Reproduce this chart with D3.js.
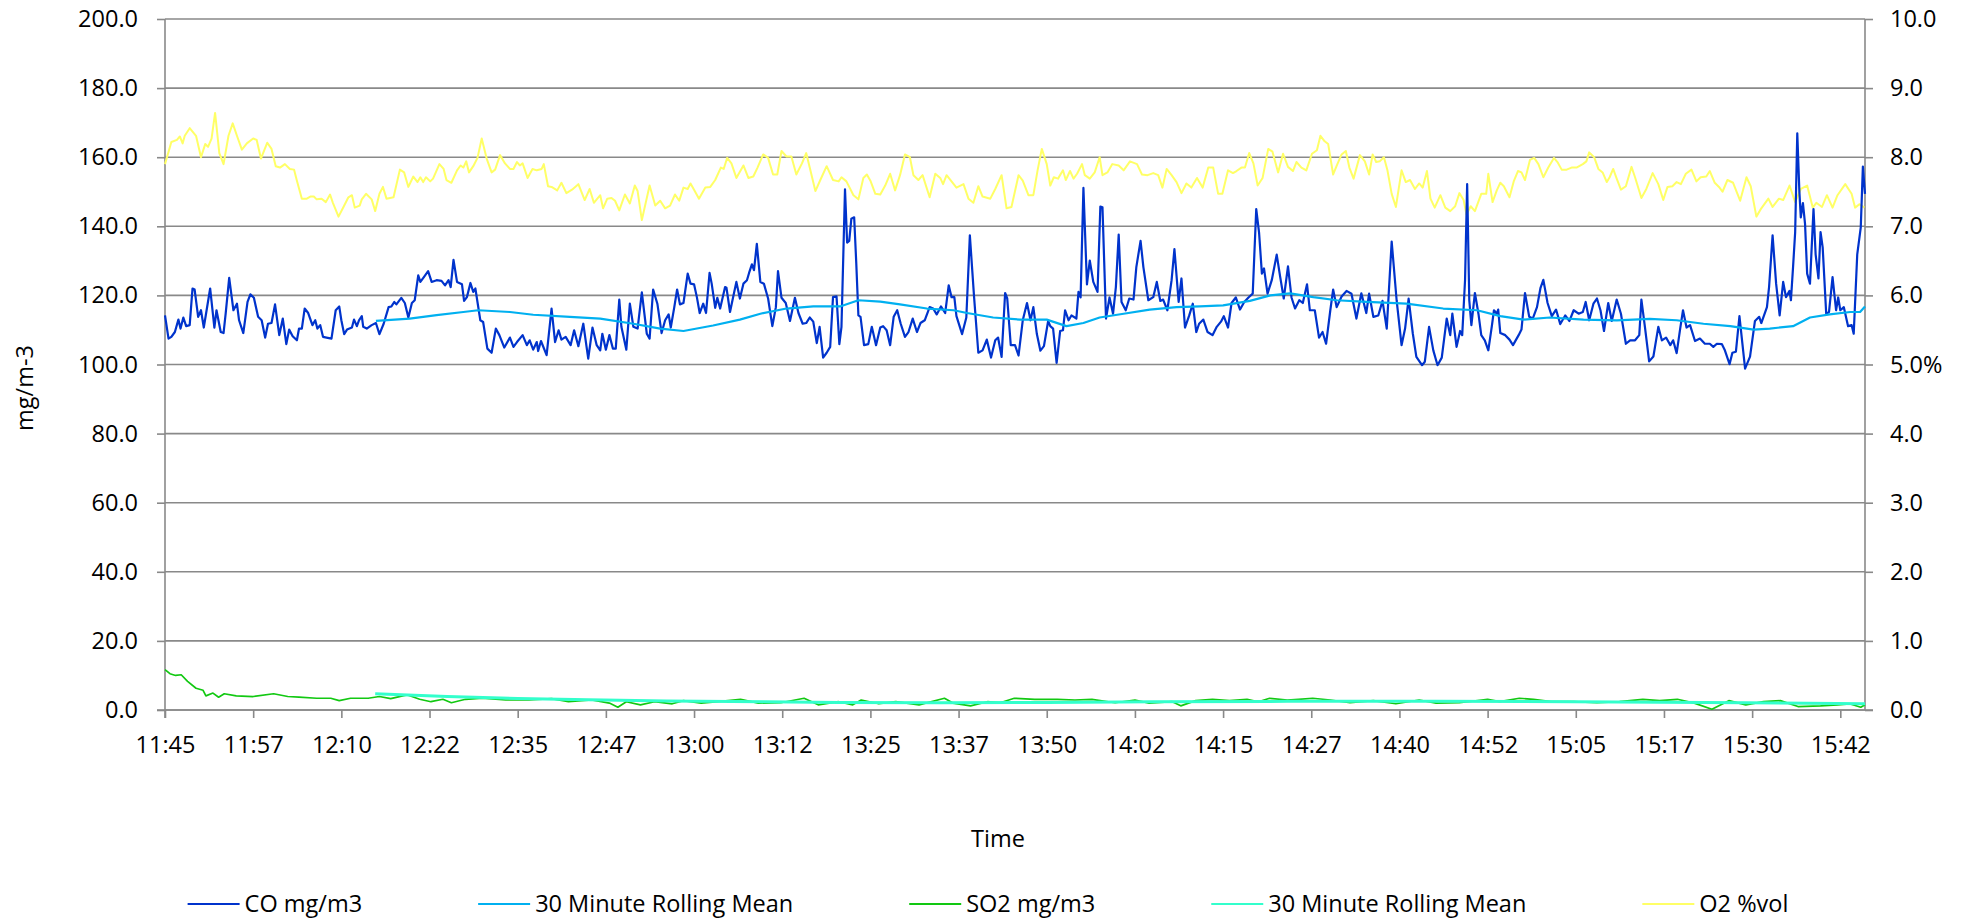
<!DOCTYPE html>
<html>
<head>
<meta charset="utf-8">
<script src="https://cdn.jsdelivr.net/npm/d3@7"></script>
<style>
  html, body { margin: 0; padding: 0; background: #ffffff; }
  svg { display: block; }
  text { font-family: "Open Sans", Lato, sans-serif; fill: #000; }
</style>
</head>
<body>
<svg id="chart" width="1964" height="922"></svg>
<script>
// ---------------- DATA (time in minutes after 11:45) ----------------
const xTickLabels = ["11:45","11:57","12:10","12:22","12:35","12:47","13:00","13:12","13:25","13:37",
                     "13:50","14:02","14:15","14:27","14:40","14:52","15:05","15:17","15:30","15:42"];
const tickIntervalMin = 12.5;
const timeSpanMin = 241;
const leftTicks = [0,20,40,60,80,100,120,140,160,180,200];
const rightTicks = [0,1,2,3,4,5,6,7,8,9,10];
const rightTickLabels = ["0.0","1.0","2.0","3.0","4.0","5.0%","6.0","7.0","8.0","9.0","10.0"];
const legendNames = ["CO mg/m3","30 Minute Rolling Mean","SO2 mg/m3","30 Minute Rolling Mean","O2 %vol"];

// CO mg/m3 [minute, value]
const coSeries = [
[0,114.2],[0.5,107.5],[0.9,108],[1.4,109.4],[1.9,113],[2.2,110.4],[2.6,113.6],[3.0,111.1],[3.5,111.4],[3.9,122],[4.2,121.7],[4.7,113.8],[5.1,115.7],[5.5,110.7],[6.4,122],[7.0,110.7],[7.3,115.7],[7.9,109.4],[8.3,109.1],[8.6,114.7],[9.1,125.1],[9.7,115.7],[10.2,117.6],[10.5,112.8],[11.1,109.1],[11.7,118.1],[12.1,120.3],[12.6,119.3],[13.2,113.8],[13.7,112.8],[14.2,107.8],[14.6,111.8],[15.1,112],[15.6,117.4],[16.2,108.5],[16.7,113.3],[17.2,105.9],[17.6,110.1],[18.1,108.2],[18.7,107],[19.0,110.4],[19.4,110.4],[19.8,116.2],[20.3,114.9],[20.9,111.4],[21.3,112.8],[21.6,110.4],[22.0,111.4],[22.4,108],[22.9,107.8],[23.6,107.5],[24.2,115.7],[24.7,116.8],[25.0,112.8],[25.4,108.8],[25.8,110.1],[26.5,110.7],[26.8,113],[27.2,111.1],[27.5,112.8],[27.9,114],[28.1,110.9],[28.6,110.4],[29.3,111.4],[29.9,112],[30.4,108.8],[31.0,111.8],[31.7,116.6],[32.1,116.8],[32.5,118.1],[32.8,117.4],[33.5,119.3],[34.0,117.8],[34.5,113.6],[35.0,117.8],[35.4,118.6],[35.9,125.8],[36.2,123.9],[36.7,125.3],[37.3,127],[37.8,123.9],[38.5,124.4],[39.2,124.2],[39.7,122.9],[40.2,124.4],[40.5,122.4],[40.9,130.3],[41.4,123.9],[42.1,123.2],[42.4,118.4],[42.8,119.5],[43.3,123.6],[43.7,121],[44.0,122],[44.7,112.8],[45.1,112.3],[45.7,104.6],[46.3,103.4],[46.9,110.4],[47.4,108.5],[48.1,104.9],[48.9,107.8],[49.4,105.1],[49.9,106.5],[50.7,108.5],[51.3,105.6],[51.7,107],[52.2,104.3],[52.7,106.5],[52.9,103.9],[53.3,106.8],[54.1,102.7],[54.8,116.2],[55.3,106.5],[55.8,109.9],[56.2,107.2],[56.8,108],[57.5,105.6],[58.0,109.9],[58.6,105.3],[59.3,111.8],[60.0,101.7],[60.6,110.7],[61.2,105.6],
[61.7,104.1],[62.0,108.9],[62.5,104.3],[63.0,108.5],[63.5,104.6],[63.9,104.6],[64.4,118.8],[64.7,110.9],[65.4,104.3],[65.9,117.6],[66.4,110.9],[67.0,110.4],[67.6,120.9],[68.3,108.9],[68.7,107.5],[69.2,121.7],[69.8,117.6],[70.4,109.1],[70.9,112.8],[71.4,114.5],[71.7,110.7],[72.2,116.6],[72.6,121.7],[73.0,117.4],[73.5,117.8],[74.1,126.3],[74.5,123.4],[75.0,123.2],[75.4,119.5],[75.8,114.9],[76.3,117.6],[76.7,114.9],[77.2,126.5],[77.5,123.4],[78.0,116.4],[78.3,119.3],[78.7,116.2],[79.4,122.4],[79.6,122.2],[80.1,115.2],[80.5,119.1],[81.0,123.9],[81.5,119.1],[82.0,123.4],[82.5,124.4],[82.8,126.5],[83.2,129],[83.5,127.3],[83.9,134.9],[84.4,123.9],[84.9,123.4],[85.5,119.1],[86.1,111.1],[86.6,116.6],[86.9,127],[87.4,119.3],[88.0,117.8],[88.6,112.6],[89.3,119.3],[89.8,114.9],[90.4,111.8],[90.9,112],[91.4,113.6],[91.9,112.4],[92.4,106.2],[92.8,110.9],[93.3,102],[93.8,103.4],[94.3,105.1],[94.7,119.5],[95.2,119.7],[95.6,105.9],[95.9,110.9],[96.4,150.7],[96.7,135.3],[97.0,135.8],[97.3,142.2],[97.7,142.6],[98.0,129.2],[98.3,114.2],[98.6,113.8],[99.1,105.6],[99.7,105.9],[100.2,110.9],[100.8,105.6],[101.4,110.7],[101.8,111.1],[102.3,109.9],[102.8,105.6],[103.3,113.8],[103.8,115.7],[104.3,111.8],[104.9,108],[105.4,109.4],[106.0,113.3],[106.6,109.4],[107.1,112],[107.7,112.8],[108.4,116.6],[108.9,116.2],[109.4,114.5],[110.0,116.8],[110.6,114.9],[111.1,122.9],[111.5,119.5],[111.9,119.5],[112.2,114],[113.0,108.8],[113.6,113.6],[114.1,137.4],[114.7,119.5],[115.3,103.4],[115.9,104.1],[116.5,107.2],[117.1,102],[117.7,107],[118.1,107.8],[118.6,102.2],[119.1,120.7],[119.4,119.1],[119.9,105.6],[120.5,105.6],[121.0,102.6],[121.6,112.8],[122.2,117.8],[122.7,112.8],[123.1,116.6],[123.6,108.8],[124.1,104],[124.6,105.3],[125.2,112.6],
[125.5,111.1],[125.9,110.4],[126.4,100.5],[126.9,109.7],[127.3,109.9],[127.6,115.7],[128.1,112.8],[128.5,114.2],[129.2,113.3],[129.5,121],[129.8,119.4],[130.2,151.1],[130.7,123.2],[131.1,130.1],[131.6,123.9],[132.2,121],[132.6,145.7],[132.9,145.5],[133.4,113.3],[133.9,119.4],[134.4,114.7],[134.8,122.4],[135.2,137.6],[135.6,118.1],[136.2,115.7],[136.7,119.1],[137.3,118.8],[137.7,128.2],[138.3,135.8],[138.7,128.2],[139.4,118.6],[140.1,119.5],[140.6,123.9],[141.1,118.4],[141.5,118.8],[142.1,115.7],[142.7,124.4],[143.1,133.4],[143.7,118.1],[144.1,124.9],[144.6,110.7],[145.2,114.2],[145.7,117.6],[146.2,109.4],[146.6,111.8],[147.2,113],[147.8,109.4],[148.5,108.5],[149.1,110.9],[149.7,112.4],[150.1,114],[150.7,110.7],[151.2,117.8],[151.8,119.4],[152.4,115.9],[153.0,118.1],[153.6,119.4],[154.2,120.5],[154.7,145],[155.1,138.2],[155.5,126.3],[155.8,127.8],[156.3,120.5],[156.9,124.4],[157.6,131.8],[158.1,125.3],[158.6,119.1],[159.2,128.4],[159.7,119.4],[160.2,116.2],[160.8,118.6],[161.3,117.8],[161.9,123.2],[162.3,115.7],[163.0,115.7],[163.6,107.8],[164.1,109.4],[164.6,106],[165.2,115.7],[165.6,121.7],[166.1,116.6],[166.8,119.7],[167.5,121.3],[168.2,120.5],[168.9,113.3],[169.6,120.6],[170.3,114.9],[170.7,120.5],[171.3,113.8],[172.0,114.2],[172.6,118.4],[173.2,110.4],[173.9,135.6],[174.6,118.6],[175.3,105.6],[175.8,110.4],[176.3,119.1],[176.9,108.9],[177.4,102.2],[178.2,99.8],[178.6,100.8],[179.2,110.9],[179.8,104.1],[180.4,99.8],[181.0,102],[181.7,113.3],
[182.2,108.5],[182.5,114.7],[183.1,105.1],[183.6,109.7],[183.9,108.5],[184.3,124.4],[184.6,152.2],[184.9,118.6],[185.2,111.4],[185.7,120.7],[186.2,114.7],[186.6,108.5],[187.1,107],[187.6,104.1],[188.1,111.1],[188.4,115.7],[188.8,114.7],[189.0,115.9],[189.3,109.1],[190.0,108.5],[190.6,107.2],[191.1,105.6],[191.9,108.5],[192.3,110.1],[192.8,120.7],[193.4,113.8],[193.9,113.3],[194.5,116.6],[195.0,122.2],[195.4,124.5],[196.0,117.8],[196.6,114],[197.2,115.9],[197.8,111.7],[198.5,114.2],[199.1,112.6],[199.7,115.7],[200.4,114.7],[201.0,115.2],[201.4,118.1],[201.9,112.8],[202.5,117.6],[203.0,119.1],[203.5,115.7],[204.0,109.7],[204.6,117.8],[205.1,112.6],[205.8,118.8],[206.4,114.7],[207.1,106],[207.7,107],[208.4,107],[209.0,108.5],[209.3,118.8],[209.8,110.9],[210.4,100.9],[211.0,102.3],[211.7,110.9],[212.2,107],[212.8,107.8],[213.4,105.6],[213.8,107],[214.3,103.3],[214.8,110.4],[215.2,115.7],[215.7,110.7],[216.2,111.4],[216.9,106.8],[217.6,107.5],[218.3,106],[219.0,106],[219.5,105.1],[220.0,106],[220.7,105.9],[221.1,104.3],[221.8,100.1],[222.2,103.4],[222.7,103.7],[223.2,114],[224.0,98.8],[224.7,102.3],[225.4,112.6],[226.0,113.8],[226.3,112],[227.1,116.6],[227.4,122.4],[227.9,137.4],[228.4,123.4],[228.9,114.2],[229.4,123.9],[229.8,119.5],[230.3,121.3],[230.5,118.6],[230.8,128.2],[231.1,138.3],[231.4,166.9],[231.7,149.9],[231.9,142.6],[232.2,146.7],[232.5,140.7],[232.8,126.3],[233.2,123.4],[233.7,145],[234.0,131.9],[234.4,124.9],[234.7,138.3],[235.0,133.9],[235.5,114.7],[235.9,115.2],[236.4,125.3],[236.9,115.7],[237.2,119.4],[237.5,115.7],[238.0,116.6],[238.6,111.1],[239.1,111.4],[239.4,108.9],[239.9,131.9],[240.4,139.7],[240.7,157.3],[241.0,149.4]
];

// CO 30 minute rolling mean
const coMeanSeries = [
[29.9,112.6],[34.7,113.3],[38.5,114.3],[42.3,115.2],[44.4,115.7],[48.9,115.2],[52.2,114.4],[57.4,113.8],[61.7,113.3],[66.4,111.8],[70.2,110.4],[73.5,109.7],[77.7,111.3],[81.5,113],[84.4,114.7],[88.1,116.2],[91.9,116.8],[95.7,116.8],[98.3,118.6],[101.4,118.2],[104.2,117.4],[108.0,116.2],[111.8,115.7],[113.7,114.9],[117.4,113.6],[121.2,113],[125.0,113],[127.8,111.1],[130.2,112],[132.5,113.6],[135.9,114.7],[139.6,115.9],[143.4,116.6],[146.7,116.8],[150.0,117.1],[153.8,118.4],[156.7,120],[159.5,120.6],[162.8,119.5],[166.1,118.6],[170.4,118.1],[176.0,117.6],[181.2,116.2],[186.0,115.7],[189.3,114],[192.6,113],[196.3,113.6],[201.1,113],[205.8,112.8],[210.5,113.2],[214.3,112.8],[218.1,111.8],[221.9,111.1],[225.2,110.1],[227.5,110.4],[230.8,111.1],[233.2,113.6],[236.0,114.5],[238.9,115.2],[240.3,115.2],[241.0,116.8]
];

// SO2 mg/m3
const so2Series = [
[0,11.7],[0.7,10.5],[1.5,10],[2.3,10.2],[3.2,8.3],[4.4,6.3],[5.4,5.7],[5.8,4.1],[6.8,4.9],[7.6,3.7],[8.4,4.7],[10.1,4.1],[12.5,3.9],[15.4,4.7],[17.4,3.9],[19.0,3.7],[21.5,3.4],[23.5,3.4],[24.7,2.7],[26.3,3.4],[28.8,3.4],[30.4,3.9],[32.0,3.3],[34.3,4.4],[36.1,3.1],[37.7,2.4],[39.4,3.1],[40.6,2.1],[42.6,3.1],[45.0,3.4],[48.3,2.9],[51.6,2.9],[54.8,3.3],[57.2,2.4],[60.5,2.9],[63.0,2.0],[64.2,0.8],[65.4,2.4],[67.4,1.5],[69.4,2.4],[71.9,1.8],[73.5,2.7],[76.0,2.0],[78.4,2.4],[81.6,3.1],[84.1,2.0],[87.3,2.1],[90.6,3.4],[92.6,1.5],[95.5,2.4],[97.5,1.5],[98.7,2.9],[101.2,1.8],[103.6,2.4],[106.9,1.5],[110.5,3.4],[111.7,2.0],[114.2,1.2],[116.6,2.4],[118.4,2.1],
[120.4,3.4],[123.3,3.1],[126.5,3.1],[129.0,2.9],[131.4,3.1],[134.7,2.1],[137.5,2.9],[139.5,2.0],[142.8,2.4],[144.0,1.2],[146.1,2.7],[148.5,3.1],[150.9,2.7],[153.4,3.1],[155.0,2.4],[156.6,3.4],[159.1,2.9],[160.7,3.1],[162.7,3.4],[165.2,2.9],[168.0,2.1],[171.3,2.7],[174.5,1.8],[177.8,2.9],[180.2,2.0],[183.5,2.1],[187.5,3.1],[189.2,2.4],[192.0,3.4],[194.0,3.1],[196.5,2.4],[199.7,2.4],[203.0,2.1],[206.2,2.4],[209.5,3.1],[211.9,2.7],[214.4,3.1],[216.8,2.0],[219.3,0.2],[221.7,2.7],[224.1,1.5],[226.6,2.4],[229.0,2.7],[231.5,1.0],[234.7,1.2],[237.1,1.5],[238.8,1.8],[240.4,0.8],[241.0,1.5]
];

// SO2 30 minute rolling mean
const so2MeanSeries = [
[29.8,4.7],[40,3.9],[50,3.3],[60,3.0],[71.1,2.6],[85,2.4],[95.5,2.2],[110,2.1],[125,2.2],[140,2.4],[159.1,2.5],[180,2.5],[199.7,2.4],[224.1,2.1],[241.0,1.8]
];

// O2 %vol (right axis)
const o2Series = [
[0,7.90],[0.9,8.22],[1.7,8.25],[2.1,8.30],[2.5,8.20],[2.8,8.31],[3.5,8.42],[4.4,8.31],[5.1,8.00],[5.7,8.19],[6.1,8.15],[6.6,8.27],[7.1,8.64],[7.7,8.06],[8.3,7.90],[9.0,8.31],[9.6,8.49],[10.2,8.31],[10.9,8.11],[11.6,8.20],[12.5,8.27],[13.0,8.25],[13.6,7.98],[14.5,8.21],[15.1,8.12],[15.7,7.87],[16.3,7.85],[17.0,7.90],[17.7,7.83],[18.3,7.82],[18.7,7.66],[19.4,7.40],[20.1,7.40],[20.6,7.43],[21.1,7.43],[21.5,7.39],[22.2,7.40],[22.8,7.35],[23.4,7.46],[23.8,7.34],[24.6,7.14],[25.3,7.28],[26.0,7.42],[26.5,7.45],[26.9,7.27],[27.6,7.30],[27.9,7.39],[28.5,7.47],[29.3,7.39],[29.8,7.22],[30.4,7.47],[30.9,7.57],[31.4,7.40],[32.4,7.42],[33.3,7.82],[33.9,7.78],[34.5,7.57],[35.2,7.72],[35.8,7.64],[36.2,7.71],[36.6,7.64],[37.0,7.71],[37.6,7.65],[38.0,7.69],[38.9,7.90],[39.5,7.83],[39.9,7.67],[40.6,7.63],[41.4,7.81],[41.9,7.88],[42.3,7.85],[42.7,7.94],[43.1,7.78],[43.7,7.87],[44.3,7.99],[44.9,8.27],[45.6,7.98],[46.3,7.78],[46.8,7.82],[47.5,8.03],[48.2,7.91],[48.9,7.83],[49.4,7.83],[49.9,7.93],[50.3,7.88],[50.7,7.91],[51.4,7.70],[52.1,7.83],[52.7,7.81],[53.4,7.83],[53.7,7.90],[54.3,7.58],[54.8,7.57],[55.6,7.52],[56.2,7.63],[56.9,7.48],[57.7,7.53],[58.6,7.61],[59.5,7.38],[60.2,7.54],[60.8,7.34],
[61.7,7.45],[62.1,7.26],[62.7,7.40],[63.3,7.41],[63.8,7.37],[64.4,7.23],[65.2,7.46],[65.9,7.33],[66.6,7.59],[67.0,7.51],[67.6,7.09],[68.7,7.59],[69.5,7.30],[70.2,7.37],[70.9,7.26],[71.6,7.30],[72.3,7.46],[72.9,7.37],[73.5,7.56],[74.1,7.54],[74.5,7.62],[75.0,7.53],[75.7,7.40],[76.6,7.56],[77.3,7.57],[78.0,7.67],[78.8,7.85],[79.2,7.83],[79.7,7.99],[80.3,7.91],[81.0,7.70],[82.0,7.88],[82.7,7.70],[83.4,7.72],[84.0,7.85],[84.8,8.04],[85.5,7.99],[86.2,7.75],[86.8,7.75],[87.4,8.09],[88.1,8.01],[88.8,8.01],[89.5,7.75],[90.3,7.91],[90.9,8.06],[91.4,7.85],[92.2,7.51],[92.9,7.67],[93.8,7.87],[94.7,7.67],[95.5,7.65],[95.9,7.71],[96.6,7.65],[97.6,7.45],[98.3,7.39],[99.0,7.70],[99.5,7.75],[100.0,7.66],[100.7,7.47],[101.4,7.46],[102.1,7.59],[102.8,7.76],[103.5,7.52],[104.2,7.74],[104.9,8.04],[105.6,8.00],[106.1,7.74],[106.8,7.67],[107.4,7.74],[108.4,7.42],[109.2,7.76],[109.9,7.70],[110.3,7.61],[110.8,7.74],[111.5,7.65],[112.2,7.56],[113.2,7.61],[113.9,7.40],[114.6,7.34],[115.3,7.58],[115.9,7.43],[117.0,7.40],[117.7,7.54],[118.6,7.74],[119.3,7.26],[120.0,7.28],[121.0,7.74],[121.6,7.66],[122.4,7.45],[123.1,7.45],[123.7,7.81],[124.3,8.12],[125.0,7.90],
[125.5,7.59],[126.0,7.71],[126.6,7.69],[127.3,7.81],[127.7,7.67],[128.3,7.80],[128.8,7.69],[129.3,7.76],[130.0,7.90],[130.4,7.74],[131.1,7.69],[131.8,7.78],[132.5,8.00],[132.9,7.74],[133.6,7.78],[134.3,7.90],[135.2,7.88],[135.9,7.81],[136.8,7.94],[137.8,7.90],[138.5,7.75],[139.3,7.74],[140.1,7.77],[140.8,7.74],[141.4,7.56],[142.0,7.83],[142.7,7.74],[143.4,7.64],[144.1,7.48],[144.8,7.62],[145.5,7.56],[146.3,7.70],[147.1,7.56],[147.9,7.85],[148.6,7.85],[149.3,7.47],[149.9,7.47],[150.7,7.81],[151.4,7.77],[151.9,7.80],[152.6,7.85],[153.1,7.85],[153.7,8.06],[154.3,7.91],[154.9,7.59],[155.6,7.70],[156.4,8.12],[157.0,8.08],[157.8,7.78],[158.5,8.05],[159.2,7.86],[159.9,7.80],[160.4,7.93],[161.1,7.85],[161.8,7.81],[162.6,8.05],[163.3,8.10],[163.8,8.31],[164.4,8.23],[164.9,8.19],[165.6,7.75],[166.2,7.90],[166.8,8.04],[167.4,8.09],[167.9,7.85],[168.5,7.69],[169.4,8.03],[170.1,7.94],[170.7,7.75],[171.2,8.04],[171.7,7.93],[172.2,7.94],[172.8,8.00],[173.3,7.81],[173.9,7.47],[174.5,7.28],[175.3,7.81],[175.9,7.64],[176.5,7.67],[177.2,7.54],[177.8,7.62],[178.3,7.56],[178.9,7.80],[179.4,7.40],[180.0,7.27],[180.8,7.45],[181.5,7.27],
[182.2,7.22],[182.9,7.29],[183.5,7.48],[184.1,7.38],[184.5,7.17],[185.1,7.29],[185.7,7.22],[186.6,7.47],[187.3,7.47],[187.6,7.76],[188.2,7.35],[188.8,7.52],[189.3,7.63],[189.8,7.58],[190.6,7.42],[191.2,7.65],[191.8,7.80],[192.3,7.78],[192.8,7.67],[193.5,7.96],[194.1,7.99],[194.7,7.90],[195.4,7.71],[196.1,7.85],[196.9,7.99],[197.4,7.93],[198.0,7.82],[198.7,7.82],[199.4,7.85],[200.1,7.85],[201.0,7.90],[201.5,7.94],[201.9,8.07],[202.6,8.00],[203.2,7.83],[203.8,7.78],[204.4,7.64],[204.8,7.71],[205.3,7.83],[205.8,7.69],[206.4,7.53],[207.1,7.58],[207.9,7.86],[208.4,7.71],[209.3,7.41],[210.0,7.54],[210.9,7.77],[211.7,7.61],[212.4,7.38],[213.0,7.57],[213.7,7.58],[214.3,7.64],[214.9,7.61],[215.6,7.76],[216.4,7.82],[217.1,7.65],[217.7,7.71],[218.5,7.72],[219.0,7.80],[219.7,7.63],[220.3,7.57],[220.8,7.50],[221.5,7.67],[222.3,7.63],[223.3,7.37],[224.2,7.71],[224.8,7.58],[225.6,7.14],[226.3,7.26],[227.3,7.40],[227.9,7.28],[228.8,7.40],[229.4,7.38],[230.3,7.59],[231.1,7.35],[231.9,7.54],[232.8,7.59],[233.6,7.27],[234.1,7.34],[234.9,7.28],[235.6,7.45],[236.4,7.27],[237.1,7.45],[238.2,7.61],[239.1,7.47],[239.6,7.27],[240.2,7.32],[240.9,7.27]
];

// ---------------- CHART ----------------
const svg = d3.select("#chart");
const plot = { left: 165, right: 1865, top: 19, bottom: 710 };
const gridColor = "#898989";
const fontSize = 23.5;
const fontFamily = "'Open Sans', Lato, sans-serif";

const x = d3.scaleLinear().domain([0, timeSpanMin]).range([plot.left, plot.right]);
const yL = d3.scaleLinear().domain([0, 200]).range([plot.bottom, plot.top]);
const yR = d3.scaleLinear().domain([0, 10]).range([plot.bottom, plot.top]);

function styleAxis(g) {
  g.select(".domain").remove();
  g.selectAll(".tick line").attr("stroke", gridColor).attr("stroke-width", 1.6);
  g.selectAll(".tick text").attr("font-size", fontSize).attr("font-family", fontFamily).attr("fill", "#000");
}

// horizontal gridlines
svg.append("g").selectAll("line").data(leftTicks).join("line")
  .attr("x1", plot.left).attr("x2", plot.right)
  .attr("y1", d => yL(d)).attr("y2", d => yL(d))
  .attr("stroke", gridColor).attr("stroke-width", 1.6);

// Left axis
const gL = svg.append("g").attr("transform", `translate(${plot.left},0)`)
  .call(d3.axisLeft(yL).tickValues(leftTicks).tickSize(8).tickFormat(d3.format(".1f")).tickPadding(19));
styleAxis(gL);

// Right axis
const gR = svg.append("g").attr("transform", `translate(${plot.right},0)`)
  .call(d3.axisRight(yR).tickValues(rightTicks).tickSize(8).tickFormat((d, i) => rightTickLabels[i]).tickPadding(17));
styleAxis(gR);

// X axis
const xTickValues = xTickLabels.map((_, i) => i * tickIntervalMin);
const gX = svg.append("g").attr("transform", `translate(0,${plot.bottom})`)
  .call(d3.axisBottom(x).tickValues(xTickValues).tickSize(8).tickFormat((d, i) => xTickLabels[i]).tickPadding(18));
styleAxis(gX);

// Axis lines
svg.append("line").attr("x1", plot.left).attr("x2", plot.left).attr("y1", plot.top).attr("y2", plot.bottom + 8)
  .attr("stroke", gridColor).attr("stroke-width", 1.6);
svg.append("line").attr("x1", plot.right).attr("x2", plot.right).attr("y1", plot.top).attr("y2", plot.bottom)
  .attr("stroke", gridColor).attr("stroke-width", 1.6);
svg.append("line").attr("x1", plot.left - 8).attr("x2", plot.right + 8).attr("y1", plot.bottom).attr("y2", plot.bottom)
  .attr("stroke", gridColor).attr("stroke-width", 1.6);

// Series
const lineL = d3.line().x(d => x(d[0])).y(d => yL(d[1]));
const lineR = d3.line().x(d => x(d[0])).y(d => yR(d[1]));
const colors = ["#0033CC", "#00B0F0", "#12C812", "#33FFCC", "#FFFF66"];
const series = [
  { data: o2Series, gen: lineR, color: colors[4], width: 2 },
  { data: so2Series, gen: lineL, color: colors[2], width: 1.7 },
  { data: so2MeanSeries, gen: lineL, color: colors[3], width: 3 },
  { data: coSeries, gen: lineL, color: colors[0], width: 2.2 },
  { data: coMeanSeries, gen: lineL, color: colors[1], width: 2.2 }
];
const gS = svg.append("g");
series.forEach(s => {
  gS.append("path").datum(s.data).attr("d", s.gen)
    .attr("fill", "none").attr("stroke", s.color).attr("stroke-width", s.width)
    .attr("stroke-linejoin", "round");
});

// Axis titles
svg.append("text").attr("transform", "translate(33,388) rotate(-90)")
  .attr("text-anchor", "middle").attr("font-size", fontSize).attr("font-family", fontFamily).text("mg/m-3");
svg.append("text").attr("x", 998).attr("y", 847)
  .attr("text-anchor", "middle").attr("font-size", fontSize).attr("font-family", fontFamily).text("Time");

// Legend
const gLeg = svg.append("g");
const legY = 904, sampleLen = 52, sampleGap = 5, itemGap = 116;
let cursor = 0;
legendNames.forEach((name, i) => {
  const g = gLeg.append("g");
  g.append("line").attr("x1", 0).attr("x2", sampleLen).attr("y1", legY).attr("y2", legY)
    .attr("stroke", colors[i]).attr("stroke-width", 2.2);
  const t = g.append("text").attr("x", sampleLen + sampleGap).attr("y", legY).attr("dy", "0.35em")
    .attr("font-size", fontSize).attr("font-family", fontFamily).text(name);
  const w = sampleLen + sampleGap + t.node().getComputedTextLength();
  g.attr("transform", `translate(${cursor},0)`);
  cursor += w + itemGap;
});
const totalW = cursor - itemGap;
gLeg.attr("transform", `translate(${988 - totalW / 2},0)`);
</script>
</body>
</html>
